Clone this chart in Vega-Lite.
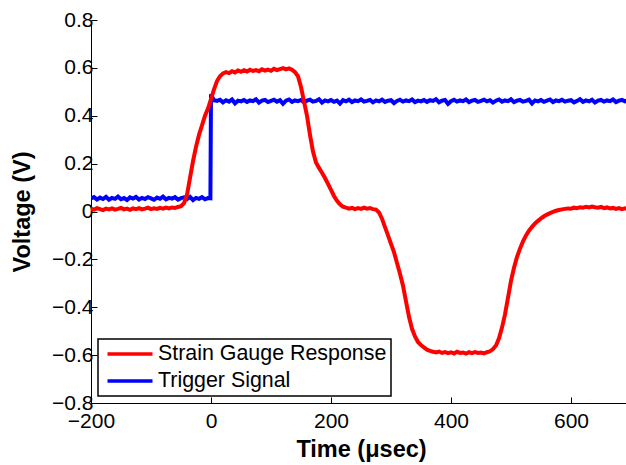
{
"$schema": "https://vega.github.io/schema/vega-lite/v6.json",
"width": 540, "height": 383,
"autosize": "none",
"padding": {"left": 91, "top": 20, "right": 0, "bottom": 62},
"background": "white",
"config": {
  "view": {"stroke": null},
  "font": "Liberation Sans",
  "axis": {"grid": false, "domainColor": "black", "domainWidth": 1, "tickColor": "black", "tickWidth": 1, "tickSize": -6, "labelColor": "black", "titleColor": "black", "labelFont": "Liberation Sans", "titleFont": "Liberation Sans", "labelFontSize": 21, "titleFontSize": 23.5, "titleFontWeight": "bold", "labelFlush": false, "labelOverlap": false},
  "legend": {"strokeColor": "black", "strokeWidth": 1.5, "fillColor": "white", "cornerRadius": 0}
},
"datasets": {
"strain": [
{"t":-200,"v":0.012},{"t":-195,"v":0.008},{"t":-190,"v":0.014},{"t":-185,"v":0.010},{"t":-180,"v":0.006},{"t":-175,"v":0.012},{"t":-170,"v":0.009},{"t":-165,"v":0.013},{"t":-160,"v":0.008},{"t":-155,"v":0.011},
{"t":-150,"v":0.015},{"t":-145,"v":0.009},{"t":-140,"v":0.012},{"t":-135,"v":0.007},{"t":-130,"v":0.013},{"t":-125,"v":0.010},{"t":-120,"v":0.014},{"t":-115,"v":0.009},{"t":-110,"v":0.012},{"t":-105,"v":0.016},
{"t":-100,"v":0.010},{"t":-95,"v":0.013},{"t":-90,"v":0.011},{"t":-85,"v":0.015},{"t":-80,"v":0.012},{"t":-75,"v":0.016},{"t":-70,"v":0.013},{"t":-65,"v":0.017},{"t":-60,"v":0.015},{"t":-55,"v":0.019},
{"t":-50,"v":0.022},{"t":-45,"v":0.035},{"t":-40,"v":0.07},{"t":-35,"v":0.14},{"t":-30,"v":0.21},{"t":-25,"v":0.27},{"t":-20,"v":0.32},{"t":-15,"v":0.36},{"t":-10,"v":0.40},{"t":-5,"v":0.43},
{"t":0,"v":0.47},{"t":5,"v":0.51},{"t":10,"v":0.545},{"t":15,"v":0.565},{"t":20,"v":0.577},{"t":25,"v":0.582},{"t":30,"v":0.578},{"t":35,"v":0.586},{"t":40,"v":0.581},{"t":45,"v":0.589},
{"t":50,"v":0.584},{"t":55,"v":0.590},{"t":60,"v":0.585},{"t":65,"v":0.592},{"t":70,"v":0.587},{"t":75,"v":0.591},{"t":80,"v":0.586},{"t":85,"v":0.594},{"t":90,"v":0.589},{"t":95,"v":0.593},
{"t":100,"v":0.588},{"t":105,"v":0.596},{"t":110,"v":0.591},{"t":115,"v":0.595},{"t":120,"v":0.599},{"t":125,"v":0.594},{"t":130,"v":0.598},{"t":135,"v":0.592},{"t":140,"v":0.582},{"t":145,"v":0.565},
{"t":150,"v":0.52},{"t":155,"v":0.46},{"t":160,"v":0.40},{"t":165,"v":0.32},{"t":170,"v":0.25},{"t":175,"v":0.205},{"t":180,"v":0.182},{"t":185,"v":0.162},{"t":190,"v":0.14},{"t":195,"v":0.115},
{"t":200,"v":0.09},{"t":205,"v":0.065},{"t":210,"v":0.045},{"t":215,"v":0.03},{"t":220,"v":0.02},{"t":225,"v":0.016},{"t":230,"v":0.012},{"t":235,"v":0.015},{"t":240,"v":0.010},{"t":245,"v":0.014},
{"t":250,"v":0.011},{"t":255,"v":0.016},{"t":260,"v":0.012},{"t":265,"v":0.014},{"t":270,"v":0.010},{"t":275,"v":0.008},{"t":280,"v":-0.004},{"t":285,"v":-0.03},{"t":290,"v":-0.065},{"t":295,"v":-0.10},
{"t":300,"v":-0.135},{"t":305,"v":-0.17},{"t":310,"v":-0.215},{"t":315,"v":-0.26},{"t":320,"v":-0.31},{"t":325,"v":-0.375},{"t":330,"v":-0.44},{"t":335,"v":-0.49},{"t":340,"v":-0.522},{"t":345,"v":-0.545},
{"t":350,"v":-0.558},{"t":355,"v":-0.568},{"t":360,"v":-0.577},{"t":365,"v":-0.582},{"t":370,"v":-0.586},{"t":375,"v":-0.589},{"t":380,"v":-0.585},{"t":385,"v":-0.591},{"t":390,"v":-0.587},{"t":395,"v":-0.592},
{"t":400,"v":-0.588},{"t":405,"v":-0.593},{"t":410,"v":-0.586},{"t":415,"v":-0.591},{"t":420,"v":-0.589},{"t":425,"v":-0.594},{"t":430,"v":-0.588},{"t":435,"v":-0.592},{"t":440,"v":-0.587},{"t":445,"v":-0.591},
{"t":450,"v":-0.589},{"t":455,"v":-0.593},{"t":460,"v":-0.588},{"t":465,"v":-0.584},{"t":470,"v":-0.575},{"t":475,"v":-0.56},{"t":480,"v":-0.53},{"t":485,"v":-0.485},{"t":490,"v":-0.43},{"t":495,"v":-0.36},
{"t":500,"v":-0.29},{"t":505,"v":-0.235},{"t":510,"v":-0.19},{"t":515,"v":-0.155},{"t":520,"v":-0.125},{"t":525,"v":-0.10},{"t":530,"v":-0.08},{"t":535,"v":-0.064},{"t":540,"v":-0.05},{"t":545,"v":-0.039},
{"t":550,"v":-0.029},{"t":555,"v":-0.02},{"t":560,"v":-0.013},{"t":565,"v":-0.007},{"t":570,"v":-0.002},{"t":575,"v":0.003},{"t":580,"v":0.006},{"t":585,"v":0.009},{"t":590,"v":0.011},{"t":595,"v":0.013},
{"t":600,"v":0.012},{"t":605,"v":0.016},{"t":610,"v":0.014},{"t":615,"v":0.018},{"t":620,"v":0.016},{"t":625,"v":0.020},{"t":630,"v":0.017},{"t":635,"v":0.021},{"t":640,"v":0.018},{"t":645,"v":0.016},
{"t":650,"v":0.019},{"t":655,"v":0.014},{"t":660,"v":0.017},{"t":665,"v":0.013},{"t":670,"v":0.015},{"t":675,"v":0.011},{"t":680,"v":0.014},{"t":685,"v":0.010},{"t":690,"v":0.013},{"t":695,"v":0.011},{"t":700,"v":0.012}
],
"trigger": [
{"t":-200,"v":0.055},{"t":-195,"v":0.060},{"t":-190,"v":0.050},{"t":-185,"v":0.058},{"t":-180,"v":0.052},{"t":-175,"v":0.061},{"t":-170,"v":0.049},{"t":-165,"v":0.057},{"t":-160,"v":0.053},{"t":-155,"v":0.062},
{"t":-150,"v":0.051},{"t":-145,"v":0.056},{"t":-140,"v":0.048},{"t":-135,"v":0.059},{"t":-130,"v":0.054},{"t":-125,"v":0.061},{"t":-120,"v":0.050},{"t":-115,"v":0.057},{"t":-110,"v":0.052},{"t":-105,"v":0.060},
{"t":-100,"v":0.055},{"t":-95,"v":0.049},{"t":-90,"v":0.058},{"t":-85,"v":0.053},{"t":-80,"v":0.062},{"t":-75,"v":0.051},{"t":-70,"v":0.057},{"t":-65,"v":0.054},{"t":-60,"v":0.060},{"t":-55,"v":0.050},
{"t":-50,"v":0.056},{"t":-45,"v":0.059},{"t":-40,"v":0.052},{"t":-35,"v":0.061},{"t":-30,"v":0.048},{"t":-25,"v":0.057},{"t":-20,"v":0.053},{"t":-15,"v":0.060},{"t":-10,"v":0.051},{"t":-5,"v":0.056},
{"t":-1,"v":0.055},{"t":0,"v":0.49},{"t":2,"v":0.478},{"t":5,"v":0.465},
{"t":10,"v":0.462},{"t":15,"v":0.467},{"t":20,"v":0.456},{"t":25,"v":0.465},{"t":30,"v":0.459},{"t":35,"v":0.468},{"t":40,"v":0.452},{"t":45,"v":0.463},{"t":50,"v":0.460},{"t":55,"v":0.466},
{"t":60,"v":0.458},{"t":65,"v":0.464},{"t":70,"v":0.461},{"t":75,"v":0.469},{"t":80,"v":0.455},{"t":85,"v":0.463},{"t":90,"v":0.466},{"t":95,"v":0.457},{"t":100,"v":0.462},{"t":105,"v":0.467},
{"t":110,"v":0.459},{"t":115,"v":0.465},{"t":120,"v":0.450},{"t":125,"v":0.463},{"t":130,"v":0.468},{"t":135,"v":0.458},{"t":140,"v":0.464},{"t":145,"v":0.461},{"t":150,"v":0.466},{"t":155,"v":0.456},
{"t":160,"v":0.463},{"t":165,"v":0.467},{"t":170,"v":0.459},{"t":175,"v":0.462},{"t":180,"v":0.469},{"t":185,"v":0.455},{"t":190,"v":0.464},{"t":195,"v":0.460},{"t":200,"v":0.466},{"t":205,"v":0.458},
{"t":210,"v":0.463},{"t":215,"v":0.451},{"t":220,"v":0.465},{"t":225,"v":0.460},{"t":230,"v":0.467},{"t":235,"v":0.457},{"t":240,"v":0.464},{"t":245,"v":0.461},{"t":250,"v":0.468},{"t":255,"v":0.459},
{"t":260,"v":0.462},{"t":265,"v":0.466},{"t":270,"v":0.456},{"t":275,"v":0.464},{"t":280,"v":0.460},{"t":285,"v":0.467},{"t":290,"v":0.458},{"t":295,"v":0.463},{"t":300,"v":0.465},{"t":305,"v":0.453},
{"t":310,"v":0.462},{"t":315,"v":0.467},{"t":320,"v":0.459},{"t":325,"v":0.464},{"t":330,"v":0.461},{"t":335,"v":0.468},{"t":340,"v":0.457},{"t":345,"v":0.463},{"t":350,"v":0.460},{"t":355,"v":0.466},
{"t":360,"v":0.458},{"t":365,"v":0.465},{"t":370,"v":0.462},{"t":375,"v":0.469},{"t":380,"v":0.456},{"t":385,"v":0.463},{"t":390,"v":0.466},{"t":395,"v":0.450},{"t":400,"v":0.461},{"t":405,"v":0.467},
{"t":410,"v":0.459},{"t":415,"v":0.464},{"t":420,"v":0.461},{"t":425,"v":0.468},{"t":430,"v":0.457},{"t":435,"v":0.463},{"t":440,"v":0.466},{"t":445,"v":0.458},{"t":450,"v":0.462},{"t":455,"v":0.467},
{"t":460,"v":0.460},{"t":465,"v":0.465},{"t":470,"v":0.455},{"t":475,"v":0.463},{"t":480,"v":0.468},{"t":485,"v":0.459},{"t":490,"v":0.464},{"t":495,"v":0.461},{"t":500,"v":0.469},{"t":505,"v":0.457},
{"t":510,"v":0.463},{"t":515,"v":0.466},{"t":520,"v":0.459},{"t":525,"v":0.462},{"t":530,"v":0.467},{"t":535,"v":0.451},{"t":540,"v":0.464},{"t":545,"v":0.460},{"t":550,"v":0.466},{"t":555,"v":0.458},
{"t":560,"v":0.463},{"t":565,"v":0.468},{"t":570,"v":0.457},{"t":575,"v":0.464},{"t":580,"v":0.461},{"t":585,"v":0.467},{"t":590,"v":0.459},{"t":595,"v":0.463},{"t":600,"v":0.465},{"t":605,"v":0.456},
{"t":610,"v":0.462},{"t":615,"v":0.469},{"t":620,"v":0.458},{"t":625,"v":0.464},{"t":630,"v":0.460},{"t":635,"v":0.467},{"t":640,"v":0.455},{"t":645,"v":0.463},{"t":650,"v":0.466},{"t":655,"v":0.459},
{"t":660,"v":0.464},{"t":665,"v":0.461},{"t":670,"v":0.468},{"t":675,"v":0.457},{"t":680,"v":0.463},{"t":685,"v":0.466},{"t":690,"v":0.460},{"t":695,"v":0.465},{"t":700,"v":0.458}
]
},
"encoding": {
  "x": {"field": "t", "type": "quantitative", "scale": {"domain": [-200, 700], "nice": false, "zero": false},
        "axis": {"values": [-200, 0, 200, 400, 600], "title": "Time (μsec)", "labelPadding": 13, "titlePadding": 6}},
  "y": {"field": "v", "type": "quantitative", "scale": {"domain": [-0.8, 0.8], "nice": false, "zero": false},
        "axis": {"values": [-0.8, -0.6, -0.4, -0.2, 0, 0.2, 0.4, 0.6, 0.8], "format": ".1~f", "title": "Voltage (V)", "labelPadding": 4, "titlePadding": 17}}
},
"layer": [
  {"data": {"name": "trigger"}, "mark": {"type": "line", "strokeWidth": 4, "clip": true},
   "encoding": {"color": {"datum": "Trigger Signal", "type": "nominal",
     "scale": {"domain": ["Strain Gauge Response", "Trigger Signal"], "range": ["#ff0000", "#0000ff"]},
     "legend": {"title": null, "orient": "bottom-left", "offset": 7, "symbolType": "M-2.5,0H2.5", "symbolSize": 324, "symbolStrokeWidth": 3.5, "symbolOffset": 17, "labelOffset": 17, "labelFontSize": 21.4, "labelLimit": 400, "labelFont": "Liberation Sans", "labelColor": "black", "padding": 4, "rowPadding": 5}}}},
  {"data": {"name": "strain"}, "mark": {"type": "line", "strokeWidth": 4, "clip": true},
   "encoding": {"color": {"datum": "Strain Gauge Response", "type": "nominal",
     "scale": {"domain": ["Strain Gauge Response", "Trigger Signal"], "range": ["#ff0000", "#0000ff"]},
     "legend": {"title": null, "orient": "bottom-left", "offset": 7, "symbolType": "M-2.5,0H2.5", "symbolSize": 324, "symbolStrokeWidth": 3.5, "symbolOffset": 17, "labelOffset": 17, "labelFontSize": 21.4, "labelLimit": 400, "labelFont": "Liberation Sans", "labelColor": "black", "padding": 4, "rowPadding": 5}}}}
]
}
